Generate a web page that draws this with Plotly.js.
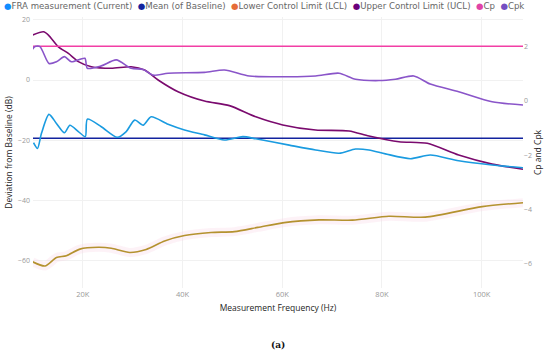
<!DOCTYPE html>
<html>
<head>
<meta charset="utf-8">
<script src="https://cdn.plot.ly/plotly-3.0.1.min.js"></script>
<style>html,body{margin:0;padding:0;background:#fff;}#chart{width:550px;height:355px;}</style>
</head>
<body>
<div id="chart"></div>
<script>
// Frequencies in kHz
const fraX = [10.1,10.9,11.7,13.2,14.7,16.3,17.4,19.1,20.5,20.9,23.7,26.9,28.7,30.4,32.1,33.7,37.1,40.4,44.4,48.4,52.1,54.7,61.4,66.7,71.4,74.7,77.4,80.7,85.7,89.7,95.4,102.1,108.3];
const fraY = [-20.8,-22.7,-17.7,-11.4,-14.4,-17.5,-15.0,-17.1,-18.8,-13.0,-15.5,-19.0,-17.1,-13.3,-15.0,-12.2,-14.7,-16.6,-18.2,-19.9,-18.8,-19.5,-21.6,-23.2,-24.3,-22.9,-23.2,-24.5,-26.1,-24.9,-26.8,-28.2,-29.1];

const meanX = [10, 108.3];
const meanY = [-19.3, -19.3];

const lclX = [9.9,12.4,14.7,16.7,19.4,23.1,25.7,29.4,32.7,36.4,40.4,45.7,50.4,55.1,60.4,67.4,74.1,81.4,88.7,100.1,108.3];
const lclY = [-60.3,-61.7,-58.9,-58.3,-56.1,-55.5,-55.8,-57.2,-56.2,-53.4,-51.6,-50.6,-50.3,-48.9,-47.3,-46.4,-46.5,-45.2,-45.5,-42.0,-40.7];

const uclX = [9.9,12.1,13.1,15.1,17.1,19.1,21.7,25.7,29.7,32.4,35.1,39.1,44.4,49.4,54.7,60.1,66.7,73.4,77.4,83.4,89.1,95.4,102.1,108.3];
const uclY = [14.9,16.0,14.9,11.0,8.8,6.1,4.4,3.9,4.4,3.3,0,-3.9,-7.0,-8.5,-12.2,-14.9,-16.6,-16.9,-18.6,-20.5,-21.0,-24.9,-27.9,-29.6];

const cpX = [10, 108.3];
const cpY = [2, 2];

const cpkX = [9.9,10.4,11.4,13.2,14.7,16.3,17.7,20.4,20.9,23.7,26.7,29.7,32.1,34.1,37.1,44.4,48.4,53.4,61.4,66.7,71.4,74.7,79.4,82.7,86.4,89.7,95.4,102.1,108.3];
const cpkY = [1.89,1.99,1.99,1.37,1.43,1.62,1.43,1.56,1.19,1.28,1.50,1.19,1.15,0.94,1.01,1.04,1.13,0.91,0.88,0.91,1.01,0.79,0.74,0.79,0.91,0.61,0.33,-0.04,-0.16];

const xTickVals = [20, 40, 60, 80, 100];
const xTickText = ['20K', '40K', '60K', '80K', '100K'];
const leftTickVals = [-60, -40, -20, 0, 20];
const rightTickVals = [-6, -4, -2, 0, 2];

const seriesNames = ['FRA measurement (Current)', 'Mean (of Baseline)', 'Lower Control Limit (LCL)', 'Upper Control Limit (UCL)', 'Cp', 'Cpk'];
const legendColors = ['#118DFF', '#12239E', '#E66C37', '#6B007B', '#E044A7', '#744EC2'];

const toHz = a => a.map(v => v * 1000);
const sp = {shape: 'spline', smoothing: 0.7};

const traces = [
  {x: toHz(lclX), y: lclY, mode: 'lines', line: Object.assign({color: 'rgba(250,212,228,0.3)', width: 9}, sp), hoverinfo: 'skip', showlegend: false},
  {x: toHz(cpX), y: cpY, yaxis: 'y2', mode: 'lines', name: seriesNames[4], line: {color: '#F23FA5', width: 1.6}, showlegend: false},
  {x: toHz(cpkX), y: cpkY, yaxis: 'y2', mode: 'lines', name: seriesNames[5], line: Object.assign({color: '#8A55C9', width: 1.6}, sp), showlegend: false},
  {x: toHz(meanX), y: meanY, mode: 'lines', name: seriesNames[1], line: {color: '#12239E', width: 1.6}, showlegend: false},
  {x: toHz(uclX), y: uclY, mode: 'lines', name: seriesNames[3], line: Object.assign({color: '#7A0A6E', width: 1.6}, sp), showlegend: false},
  {x: toHz(fraX), y: fraY, mode: 'lines', name: seriesNames[0], line: Object.assign({color: '#1A9BE0', width: 1.6}, sp), showlegend: false},
  {x: toHz(lclX), y: lclY, mode: 'lines', name: seriesNames[2], line: Object.assign({color: '#B4922F', width: 1.6}, sp), showlegend: false}
];

const legendText = seriesNames.map((n, i) => '<span style="color:' + legendColors[i] + '">●</span>' + n).join('  ');

const layout = {
  width: 550, height: 355,
  margin: {l: 33, r: 27, t: 17, b: 67, autoexpand: false},
  paper_bgcolor: '#fff', plot_bgcolor: '#fff',
  font: {family: 'Open Sans, sans-serif', size: 7, color: '#999'},
  showlegend: false,
  xaxis: {
    range: [10000, 108300], tickvals: toHz(xTickVals), ticktext: xTickText,
    showgrid: true, gridcolor: '#f1f1f1', gridwidth: 1, zeroline: false, showline: false,
    ticks: '', tickfont: {size: 7.5, color: '#999'}, automargin: false,
    title: {text: 'Measurement Frequency (Hz)', font: {size: 8.5, color: '#252525'}, standoff: 7}
  },
  yaxis: {
    range: [-69.0, 20.9], tickvals: leftTickVals,
    showgrid: true, gridcolor: '#f1f1f1', gridwidth: 1, zeroline: false, showline: false,
    ticks: '', tickfont: {size: 7, color: '#999'}, automargin: false, ticklabelstandoff: 2,
    title: {text: 'Deviation from Baseline (dB)', font: {size: 8.5, color: '#252525'}, standoff: 4}
  },
  yaxis2: {
    overlaying: 'y', side: 'right', range: [-6.886, 3.077], tickvals: rightTickVals,
    showgrid: false, zeroline: false, showline: false,
    ticks: '', tickfont: {size: 7, color: '#999'}, automargin: false,
    title: {text: 'Cp and Cpk', font: {size: 8.5, color: '#252525'}, standoff: 4}
  },
  annotations: [
    {xref: 'paper', yref: 'paper', x: 0, y: 1.04, xanchor: 'left', yanchor: 'middle', xshift: -31, showarrow: false,
     text: legendText, font: {size: 8.6, color: '#666', family: 'DejaVu Sans, sans-serif'}},
    {xref: 'paper', yref: 'paper', x: 0.5, y: -0.21, xanchor: 'center', yanchor: 'middle', showarrow: false,
     text: '<b>(a)</b>', font: {size: 9, color: '#111', family: 'DejaVu Serif, serif'}}
  ]
};

Plotly.newPlot('chart', traces, layout, {staticPlot: true, displayModeBar: false});
</script>
</body>
</html>
